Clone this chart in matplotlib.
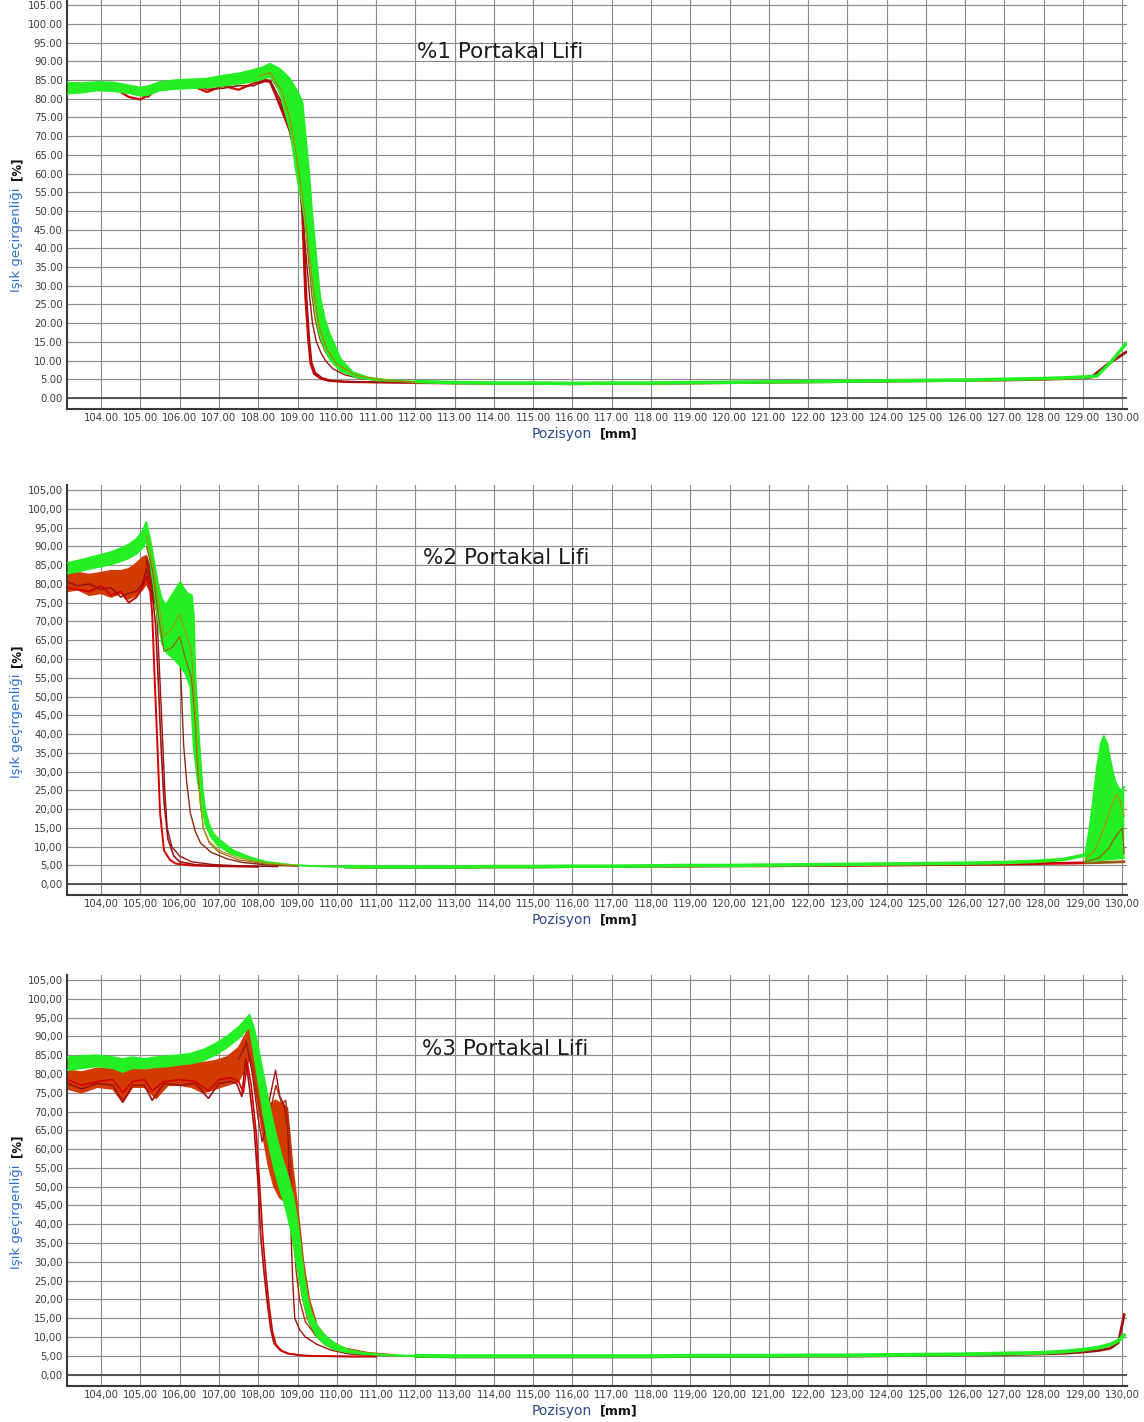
import matplotlib
matplotlib.use("Agg")
import matplotlib.pyplot as plt

# ---------------------------------------------------------------------------
# Axis ticks and labels
# ---------------------------------------------------------------------------
X_TICKS = list(range(104, 131))
Y_TICKS = list(range(0, 106, 5))
TITLES = ["%1 Portakal Lifi", "%2 Portakal Lifi", "%3 Portakal Lifi"]
DECIMAL_SEP = [".", ",", ","]
Y_LABEL = "Işık geçirgenliği"
Y_UNIT = "[%]"
X_LABEL = "Pozisyon"
X_UNIT = "[mm]"

# ---------------------------------------------------------------------------
# Panel 1 : %1 orange fibre  (position [mm] -> transmission [%])
# ---------------------------------------------------------------------------
P1_PLAT_X = [103.15, 103.5, 103.9, 104.3, 104.7, 105.0, 105.2, 105.5, 105.9,
             106.3, 106.7, 107.1, 107.5, 107.9, 108.15, 108.3]
P1_RED1_PLAT = [82.2, 82.6, 83.5, 83.0, 80.5, 79.8, 81.0, 82.5, 84.5,
                83.5, 81.8, 83.5, 82.4, 84.2, 84.8, 84.5]
P1_RED2_PLAT = [82.8, 82.0, 83.0, 83.8, 82.0, 81.0, 80.5, 83.5, 83.8,
                84.0, 82.5, 82.8, 83.5, 83.5, 85.2, 84.8]
P1_GRN_TOP = [84.3, 84.2, 84.5, 84.4, 83.6, 83.0, 83.4, 84.5, 85.0,
              85.2, 85.4, 86.2, 86.8, 87.8, 88.6, 89.4]
P1_GRN_LOW = [81.4, 81.6, 82.2, 82.0, 81.5, 80.8, 81.0, 82.2, 82.6,
              82.8, 83.0, 83.4, 84.0, 84.6, 85.4, 85.8]

P1_GRN_HI_X = [108.55, 108.8, 109.0, 109.13, 109.2, 109.3, 109.37, 109.46, 109.58,
               109.7, 109.83, 110.1, 110.4, 110.8, 111.3, 112.0]
P1_GRN_HI_Y = [88.0, 85.5, 82.0, 79.0, 71.0, 60.0, 50.0, 40.0, 27.0,
               21.0, 17.0, 10.5, 7.0, 5.5, 4.8, 4.4]
P1_GRN_LO_X = [108.45, 108.6, 108.82, 108.97, 109.15, 109.28, 109.41, 109.54, 109.7,
               109.84, 110.1, 110.5, 111.0, 112.0]
P1_GRN_LO_Y = [84.0, 80.0, 71.0, 60.0, 50.0, 40.0, 27.0, 18.0, 13.0,
               10.0, 7.2, 5.5, 4.7, 4.3]

P1_RED1_DROP_X = [108.48, 108.82, 109.03, 109.12, 109.16, 109.2, 109.27, 109.33, 109.42,
                  109.59, 109.8, 110.2, 111.0, 112.0]
P1_RED1_DROP_Y = [80.0, 71.0, 60.0, 50.0, 38.0, 27.0, 16.0, 9.3, 6.5,
                  5.2, 4.6, 4.3, 4.2, 4.1]
P1_RED2_DROP_X = [108.5, 108.84, 109.05, 109.14, 109.19, 109.23, 109.3, 109.36, 109.45,
                  109.62, 109.85, 110.25, 111.0, 112.0]
P1_RED2_DROP_Y = [80.0, 71.0, 60.0, 50.0, 38.0, 27.0, 16.0, 9.5, 6.8,
                  5.4, 4.7, 4.4, 4.2, 4.1]

P1_MID1_X = [108.0, 108.3, 108.55, 108.8, 109.0, 109.12, 109.22, 109.3, 109.38,
             109.48, 109.6, 109.71, 109.9, 110.2, 110.6, 111.2, 112.0]
P1_MID1_Y = [84.0, 85.0, 80.0, 71.0, 62.0, 50.0, 38.0, 28.0, 20.0,
             15.0, 12.0, 10.0, 7.8, 6.2, 5.2, 4.6, 4.2]
P1_MID2_X = [108.0, 108.3, 108.6, 108.85, 109.05, 109.17, 109.27, 109.36, 109.45,
             109.56, 109.7, 109.85, 110.05, 110.35, 110.8, 111.4, 112.0]
P1_MID2_Y = [85.0, 86.0, 81.0, 72.0, 62.0, 50.0, 38.0, 28.0, 21.0,
             16.0, 12.5, 10.0, 8.0, 6.3, 5.2, 4.6, 4.2]
P1_MID3_X = [108.0, 108.3, 108.6, 108.8, 108.95, 109.08, 109.2, 109.3, 109.42,
             109.55, 109.75, 110.0, 110.5, 111.2, 112.0]
P1_MID3_Y = [86.0, 87.0, 82.0, 75.0, 66.0, 57.0, 48.0, 38.0, 28.0,
             19.0, 13.0, 9.0, 6.0, 4.8, 4.3]

P1_TAIL_X = [112.0, 113.0, 114.0, 115.0, 116.0, 117.0, 118.0, 119.0, 120.0, 121.0,
             122.0, 123.0, 124.0, 125.0, 126.0, 127.0, 128.0, 128.6, 129.0]
P1_GRN_TAIL_Y = [4.4, 4.1, 4.0, 4.0, 3.9, 4.0, 4.0, 4.1, 4.2, 4.3,
                 4.4, 4.5, 4.6, 4.7, 4.8, 5.0, 5.2, 5.4, 5.6]
P1_RED_TAIL_Y = [4.1, 4.0, 3.9, 3.9, 3.8, 3.9, 3.9, 4.0, 4.1, 4.2,
                 4.3, 4.4, 4.5, 4.6, 4.7, 4.8, 5.0, 5.2, 5.4]
P1_GRN_END_X = [129.0, 129.36, 129.7, 130.1]
P1_GRN_END_Y = [5.6, 5.9, 9.5, 14.6]
P1_RED_END_X = [129.0, 129.22, 129.6, 130.1]
P1_RED_END_Y = [5.4, 5.6, 8.8, 12.3]

# ---------------------------------------------------------------------------
# Panel 2 : %2 orange fibre
# ---------------------------------------------------------------------------
P2_PLAT_X = [103.15, 103.4, 103.7, 104.0, 104.25, 104.5, 104.7, 104.9, 105.05, 105.15]
P2_GRN_TOP = [85.6, 86.2, 87.0, 87.8, 88.5, 89.5, 90.5, 92.0, 94.0, 96.5]
P2_GRN_LOW = [82.8, 83.2, 84.0, 84.6, 85.2, 86.0, 86.8, 88.0, 89.5, 91.5]
P2_RED_TOP = [83.5, 83.0, 82.5, 83.0, 83.5, 83.5, 84.0, 85.5, 87.0, 87.5]
P2_RED_LOW = [78.0, 78.5, 77.0, 77.5, 76.5, 77.5, 76.0, 77.0, 78.5, 80.0]
P2_RED_HI_X = [105.25, 105.35]
P2_RED_HI_Y = [84.5, 79.0]
P2_RED_LO_X = [105.25, 105.35]
P2_RED_LO_Y = [78.0, 75.0]

P2_GRN_HI_X = [105.25, 105.35, 105.45, 105.55, 105.65, 105.8, 105.95, 106.02, 106.1,
               106.2, 106.31, 106.36, 106.4, 106.5, 106.58, 106.65, 106.75, 106.86,
               107.0, 107.37, 107.8, 108.2, 108.8, 109.5, 110.2]
P2_GRN_HI_Y = [92.0, 86.0, 80.0, 76.0, 74.5, 77.0, 79.5, 80.5, 79.0,
               77.5, 77.0, 72.0, 56.0, 38.0, 26.0, 20.0, 16.0, 13.5,
               12.0, 9.0, 7.2, 6.0, 5.2, 4.8, 4.7]
P2_GRN_LO_X = [105.25, 105.35, 105.45, 105.55, 105.68, 105.85, 106.02, 106.15, 106.27,
               106.35, 106.45, 106.53, 106.65, 106.8, 106.95, 107.3, 107.8, 108.4,
               109.2, 110.2]
P2_GRN_LO_Y = [86.0, 78.0, 70.0, 64.0, 61.5, 60.0, 58.0, 56.0, 52.5,
               37.0, 28.0, 23.0, 16.0, 12.5, 10.5, 8.2, 6.5, 5.5,
               4.9, 4.6]

P2_RED1_X = [103.15, 103.4, 103.7, 104.0, 104.25, 104.5, 104.7, 104.9, 105.05, 105.15,
             105.25, 105.3, 105.35, 105.42, 105.5, 105.6, 105.75, 105.9, 106.3, 107.0, 108.0]
P2_RED1_Y = [79.0, 78.5, 78.0, 79.5, 77.0, 78.0, 75.0, 76.5, 79.0, 82.0,
             78.0, 72.0, 58.0, 40.0, 19.0, 9.0, 6.5, 5.5, 5.0, 4.8, 4.7]
P2_RED2_X = [103.15, 103.4, 103.7, 104.0, 104.25, 104.5, 104.7, 104.9, 105.05, 105.15,
             105.28, 105.38, 105.45, 105.52, 105.6, 105.7, 105.85, 106.0, 106.4, 107.0, 108.0]
P2_RED2_Y = [80.5, 79.5, 80.0, 78.5, 79.0, 76.5, 77.5, 78.0, 80.0, 84.0,
             79.0, 70.0, 55.0, 38.0, 22.0, 12.0, 7.5, 6.0, 5.2, 4.9, 4.7]
P2_MID1_X = [105.15, 105.3, 105.42, 105.48, 105.55, 105.62, 105.68, 105.8, 106.0,
             106.3, 106.8, 107.5, 108.5]
P2_MID1_Y = [86.0, 80.0, 72.0, 58.0, 42.0, 25.0, 15.0, 10.0, 7.5,
             6.0, 5.3, 4.9, 4.7]
P2_MID2_X = [105.15, 105.35, 105.55, 105.8, 106.0, 106.05, 106.1, 106.18, 106.27,
             106.4, 106.53, 106.8, 107.2, 107.6, 108.3, 109.0]
P2_MID2_Y = [87.0, 81.0, 74.0, 72.0, 62.0, 50.0, 37.0, 27.0, 19.0,
             14.0, 11.0, 8.5, 6.8, 5.8, 5.1, 4.8]
P2_MID3_X = [105.15, 105.3, 105.45, 105.6, 105.8, 106.0, 106.15, 106.3, 106.38,
             106.45, 106.52, 106.6, 106.75, 107.0, 107.5, 108.2, 109.0]
P2_MID3_Y = [90.0, 84.0, 72.0, 62.0, 63.0, 66.0, 60.0, 55.0, 45.0,
             32.0, 22.0, 15.0, 11.0, 8.5, 6.5, 5.4, 4.9]
P2_MID4_X = [105.15, 105.3, 105.45, 105.6, 105.8, 106.0, 106.15, 106.3, 106.38,
             106.45, 106.52, 106.6, 106.75, 107.0, 107.5, 108.2, 109.0]
P2_MID4_Y = [93.0, 86.0, 76.0, 66.0, 68.0, 72.0, 67.0, 62.0, 50.0,
             35.0, 22.0, 15.0, 11.5, 9.0, 7.0, 5.6, 5.0]

P2_TAIL_X = [110.2, 111.0, 112.0, 113.0, 114.0, 115.0, 116.0, 117.0, 118.0, 119.0, 120.0,
             121.0, 122.0, 123.0, 124.0, 125.0, 126.0, 127.0, 127.8, 128.5, 129.05]
P2_GRN_TAIL_Y = [4.7, 4.6, 4.6, 4.6, 4.7, 4.7, 4.8, 4.8, 4.9, 5.0, 5.0,
                 5.1, 5.2, 5.3, 5.4, 5.5, 5.6, 5.8, 6.1, 6.6, 7.8]
P2_RED_TAIL_Y = [4.6, 4.5, 4.5, 4.5, 4.6, 4.6, 4.7, 4.7, 4.8, 4.8, 4.9,
                 4.9, 5.0, 5.0, 5.1, 5.2, 5.3, 5.4, 5.5, 5.6, 5.7]
P2_RED_END_X = [129.05, 129.5, 130.05]
P2_RED_END_Y = [5.7, 5.8, 6.0]
P2_SPIKE_HI_X = [129.05, 129.15, 129.25, 129.35, 129.45, 129.53, 129.62, 129.72,
                 129.82, 129.92, 130.0, 130.05]
P2_SPIKE_HI_Y = [7.8, 14.0, 22.0, 31.0, 37.5, 39.5, 37.5, 32.0,
                 27.5, 25.5, 25.0, 26.0]
P2_SPIKE_LO_X = [129.05, 129.3, 129.7, 130.05]
P2_SPIKE_LO_Y = [6.0, 6.3, 6.6, 7.0]
P2_OLIVE_END_X = [129.05, 129.3, 129.5, 129.7, 129.85, 129.95, 130.05]
P2_OLIVE_END_Y = [6.5, 9.0, 14.0, 20.0, 24.0, 22.0, 18.0]
P2_BROWN_END_X = [129.05, 129.4, 129.65, 129.85, 130.0, 130.05]
P2_BROWN_END_Y = [6.0, 7.0, 9.5, 13.0, 15.0, 8.0]

# ---------------------------------------------------------------------------
# Panel 3 : %3 orange fibre
# ---------------------------------------------------------------------------
P3_PLAT_X = [103.15, 103.5, 103.9, 104.3, 104.55, 104.8, 105.1, 105.4, 105.7,
             106.0, 106.3, 106.6, 106.9, 107.2, 107.5, 107.78]
P3_GRN_TOP = [84.5, 84.8, 85.0, 84.5, 84.0, 84.5, 84.0, 84.5, 84.8,
              85.0, 85.5, 86.5, 88.0, 90.0, 92.5, 95.8]
P3_GRN_LOW = [81.0, 81.5, 82.0, 81.5, 80.5, 81.5, 81.5, 81.8, 82.0,
              82.5, 82.8, 83.5, 85.0, 87.0, 89.5, 92.5]
P3_RED_TOP = [81.0, 80.5, 81.5, 81.5, 80.5, 81.5, 81.0, 81.5, 82.0,
              82.5, 82.8, 83.0, 83.5, 84.5, 87.0, 92.5]
P3_RED_LOW = [76.0, 75.0, 76.5, 76.0, 72.5, 76.5, 76.5, 73.5, 77.0,
              77.0, 76.5, 75.0, 76.0, 77.0, 78.0, 84.0]

P3_RED_HI_X = [107.9, 108.02, 108.15, 108.3, 108.44, 108.6, 108.74, 108.82, 108.88,
               108.95, 109.05, 109.15, 109.3, 109.5, 109.8, 110.2, 110.8, 111.5]
P3_RED_HI_Y = [88.0, 84.5, 76.0, 72.0, 73.0, 72.0, 71.0, 62.0, 55.0,
               49.0, 40.0, 30.0, 20.0, 13.0, 9.0, 7.0, 5.8, 5.2]
P3_RED_LO_X = [107.85, 107.95, 108.1, 108.25, 108.4, 108.55, 108.7, 108.82, 108.9,
               109.0, 109.1, 109.25, 109.45, 109.7, 110.0, 110.6, 111.5]
P3_RED_LO_Y = [82.0, 75.0, 65.0, 56.0, 50.0, 47.0, 46.0, 44.0, 38.0,
               30.0, 22.0, 15.0, 10.5, 8.0, 6.5, 5.5, 5.0]

P3_GRN_HI_X = [107.9, 108.02, 108.15, 108.3, 108.45, 108.6, 108.75, 108.9, 109.0,
               109.08, 109.16, 109.25, 109.35, 109.5, 109.65, 109.8, 110.0, 110.3,
               110.7, 111.2, 112.0]
P3_GRN_HI_Y = [92.0, 86.0, 79.0, 71.0, 64.0, 58.0, 53.0, 47.0, 41.0,
               34.0, 27.0, 21.0, 16.5, 13.0, 11.0, 9.5, 8.0, 6.6,
               5.8, 5.3, 5.0]
P3_GRN_LO_X = [107.88, 108.0, 108.12, 108.25, 108.4, 108.53, 108.65, 108.75, 108.86,
               108.95, 109.05, 109.16, 109.3, 109.5, 109.7, 109.9, 110.2, 110.7,
               111.5, 112.0]
P3_GRN_LO_Y = [86.0, 78.0, 70.0, 62.0, 55.0, 50.0, 46.0, 42.0, 37.0,
               31.0, 25.0, 19.0, 14.0, 10.0, 8.0, 6.8, 6.0, 5.4,
               5.0, 4.9]

P3_RED1_X = [103.15, 103.5, 103.9, 104.3, 104.55, 104.8, 105.1, 105.3, 105.6, 106.0,
             106.4, 106.73, 107.0, 107.3, 107.45, 107.58, 107.68, 107.78, 107.9, 108.0,
             108.06, 108.15, 108.23, 108.32, 108.4, 108.55, 108.74, 109.1, 109.6, 110.3, 111.0]
P3_RED1_Y = [77.5, 76.0, 77.5, 77.0, 72.5, 77.0, 77.0, 73.0, 77.5, 77.0,
             77.5, 73.5, 77.5, 78.0, 77.5, 74.0, 84.0, 76.0, 65.0, 50.0,
             37.0, 27.0, 19.0, 12.0, 8.3, 6.5, 5.6, 5.1, 4.9, 4.8, 4.8]
P3_RED2_X = [103.15, 103.5, 103.9, 104.3, 104.55, 104.8, 105.1, 105.3, 105.6, 106.0,
             106.4, 106.73, 107.0, 107.3, 107.5, 107.62, 107.72, 107.82, 107.95, 108.05,
             108.12, 108.2, 108.28, 108.36, 108.45, 108.6, 108.8, 109.2, 109.7, 110.4, 111.0]
P3_RED2_Y = [78.5, 77.0, 78.0, 78.5, 75.0, 78.0, 78.5, 75.5, 78.0, 78.5,
             78.0, 75.5, 78.5, 79.0, 78.0, 75.0, 83.0, 77.0, 64.0, 48.0,
             36.0, 26.0, 18.0, 11.5, 8.0, 6.3, 5.5, 5.0, 4.9, 4.8, 4.8]
P3_MID1_X = [107.5, 107.7, 107.85, 108.0, 108.1, 108.2, 108.3, 108.44, 108.55, 108.65,
             108.75, 108.8, 108.84, 108.88, 108.93, 109.05, 109.2, 109.5, 109.85, 110.3, 111.0]
P3_MID1_Y = [84.0, 88.0, 80.0, 68.0, 62.0, 66.0, 74.0, 81.0, 74.0, 72.0,
             66.0, 50.0, 36.0, 24.0, 15.0, 12.0, 10.0, 8.0, 6.5, 5.5, 5.0]
P3_MID2_X = [107.5, 107.7, 107.85, 108.0, 108.15, 108.3, 108.45, 108.6, 108.7, 108.78,
             108.85, 108.9, 108.96, 109.05, 109.2, 109.5, 109.9, 110.5, 111.2]
P3_MID2_Y = [84.0, 89.0, 82.0, 72.0, 65.0, 70.0, 77.0, 72.0, 73.0, 65.0,
             52.0, 40.0, 28.0, 20.0, 14.0, 10.0, 7.5, 5.8, 5.1]

P3_TAIL_X = [112.0, 113.0, 114.0, 115.0, 116.0, 117.0, 118.0, 119.0, 120.0, 121.0,
             122.0, 123.0, 124.0, 125.0, 126.0, 127.0, 128.0, 128.6, 129.0, 129.4,
             129.7, 129.9, 130.05]
P3_GRN_TAIL_Y = [5.0, 4.9, 4.9, 4.9, 4.9, 4.9, 4.9, 5.0, 5.0, 5.0,
                 5.1, 5.1, 5.2, 5.3, 5.4, 5.6, 5.8, 6.2, 6.6, 7.2,
                 8.0, 9.0, 10.5]
P3_RED_TAIL_Y = [4.8, 4.7, 4.7, 4.7, 4.7, 4.7, 4.7, 4.8, 4.8, 4.8,
                 4.9, 4.9, 5.0, 5.1, 5.2, 5.3, 5.5, 5.7, 6.0, 6.4,
                 7.0, 8.5, 16.0]

# ---------------------------------------------------------------------------
# Styling
# ---------------------------------------------------------------------------
C_RED = "#d40000"
C_RED_DARK = "#9e1212"
C_RED_BAND = "#d23c00"
C_BROWN = "#9a5a10"
C_OLIVE = "#a09a00"
C_GREEN = "#24ee24"
C_GRID = "#8c8c8c"
C_SPINE = "#3a3a3a"

W, H, DPI = 1144, 1422, 100
LEFT_PX, RIGHT_PX = 67, 1127
PANEL_PX = [(0.0, 409.0), (484.8, 895.3), (974.8, 1385.6)]  # (top, bottom)
TITLE_POS = [(0.409, 0.873), (0.414, 0.822), (0.413, 0.819)]
XLIM = (103.13, 130.12)
YLIM = (-2.94, 106.4)

plt.rcParams["font.family"] = ["DejaVu Sans"]
fig = plt.figure(figsize=(W / DPI, H / DPI), dpi=DPI)
fig.patch.set_facecolor("white")


def band(ax, xt, yt, xl, yl, color, z, edge=1.2):
    xs = list(xt) + list(xl)[::-1]
    ys = list(yt) + list(yl)[::-1]
    ax.fill(xs, ys, color=color, lw=0, zorder=z)
    ax.plot(xt, yt, color=color, lw=edge, zorder=z, solid_joinstyle="round")
    ax.plot(xl, yl, color=color, lw=edge, zorder=z, solid_joinstyle="round")


def scan(ax, x, y, color, lw, z):
    ax.plot(x, y, color=color, lw=lw, zorder=z, solid_joinstyle="round",
            solid_capstyle="round")


def setup_axes(i):
    top, bottom = PANEL_PX[i]
    ax = fig.add_axes([LEFT_PX / W, (H - bottom) / H,
                       (RIGHT_PX - LEFT_PX) / W, (bottom - top) / H])
    ax.set_xlim(*XLIM)
    ax.set_ylim(*YLIM)
    sep = DECIMAL_SEP[i]
    ax.set_xticks(X_TICKS)
    ax.set_xticklabels([f"{v:.2f}".replace(".", sep) for v in X_TICKS])
    ax.set_yticks(Y_TICKS)
    ax.set_yticklabels([f"{v:.2f}".replace(".", sep) for v in Y_TICKS])
    ax.tick_params(length=0, labelsize=7.3, labelcolor="#3a3a3a", pad=3)
    ax.grid(True, color=C_GRID, lw=0.85)
    ax.set_axisbelow(True)
    for s in ("top", "right"):
        ax.spines[s].set_visible(False)
    for s in ("left", "bottom"):
        ax.spines[s].set_color(C_SPINE)
        ax.spines[s].set_linewidth(1.5)
    ax.axhline(0, color="#4a4a4a", lw=1.3, zorder=1)
    tx, ty = TITLE_POS[i]
    ax.text(tx, ty, TITLES[i], transform=ax.transAxes, ha="center", va="center",
            fontsize=15.5, color="#1c1c1c", zorder=10)
    return ax


# ---- panel 1 -------------------------------------------------------------
ax1 = setup_axes(0)
scan(ax1, P1_PLAT_X + P1_RED1_DROP_X, P1_RED1_PLAT + P1_RED1_DROP_Y, C_RED, 1.6, 3)
scan(ax1, P1_PLAT_X + P1_RED2_DROP_X, P1_RED2_PLAT + P1_RED2_DROP_Y, C_RED_DARK, 1.2, 3)
scan(ax1, P1_MID1_X, P1_MID1_Y, C_RED_DARK, 1.0, 3)
scan(ax1, P1_MID2_X, P1_MID2_Y, C_BROWN, 1.0, 3)
band(ax1, P1_PLAT_X + P1_GRN_HI_X, P1_GRN_TOP + P1_GRN_HI_Y,
     P1_PLAT_X + P1_GRN_LO_X, P1_GRN_LOW + P1_GRN_LO_Y, C_GREEN, 4)
scan(ax1, P1_MID3_X, P1_MID3_Y, "#c07a00", 0.8, 5)
scan(ax1, P1_TAIL_X, P1_RED_TAIL_Y, C_RED, 2.0, 3)
scan(ax1, P1_RED_END_X, P1_RED_END_Y, C_RED_DARK, 2.0, 3)
scan(ax1, P1_TAIL_X, P1_GRN_TAIL_Y, C_GREEN, 2.6, 4)
scan(ax1, P1_GRN_END_X, P1_GRN_END_Y, C_GREEN, 2.4, 4)

# ---- panel 2 -------------------------------------------------------------
ax2 = setup_axes(1)
band(ax2, P2_PLAT_X + P2_RED_HI_X, P2_RED_TOP + P2_RED_HI_Y,
     P2_PLAT_X + P2_RED_LO_X, P2_RED_LOW + P2_RED_LO_Y, C_RED_BAND, 2)
scan(ax2, P2_RED1_X, P2_RED1_Y, C_RED, 1.4, 3)
scan(ax2, P2_RED2_X, P2_RED2_Y, C_RED_DARK, 1.2, 3)
scan(ax2, P2_MID1_X, P2_MID1_Y, C_RED_DARK, 1.0, 3)
scan(ax2, P2_MID2_X, P2_MID2_Y, "#8a2a10", 1.0, 3)
band(ax2, P2_PLAT_X + P2_GRN_HI_X, P2_GRN_TOP + P2_GRN_HI_Y,
     P2_PLAT_X + P2_GRN_LO_X, P2_GRN_LOW + P2_GRN_LO_Y, C_GREEN, 4)
scan(ax2, P2_MID3_X, P2_MID3_Y, C_BROWN, 0.8, 5)
scan(ax2, P2_MID4_X, P2_MID4_Y, C_OLIVE, 0.8, 5)
scan(ax2, P2_TAIL_X, P2_RED_TAIL_Y, C_RED, 2.0, 3)
scan(ax2, P2_RED_END_X, P2_RED_END_Y, C_BROWN, 2.0, 3)
scan(ax2, P2_TAIL_X, P2_GRN_TAIL_Y, C_GREEN, 2.6, 4)
band(ax2, P2_SPIKE_HI_X, P2_SPIKE_HI_Y, P2_SPIKE_LO_X, P2_SPIKE_LO_Y, C_GREEN, 4)
scan(ax2, P2_OLIVE_END_X, P2_OLIVE_END_Y, C_OLIVE, 0.9, 5)
scan(ax2, P2_BROWN_END_X, P2_BROWN_END_Y, C_BROWN, 0.9, 5)

# ---- panel 3 -------------------------------------------------------------
ax3 = setup_axes(2)
band(ax3, P3_PLAT_X + P3_RED_HI_X, P3_RED_TOP + P3_RED_HI_Y,
     P3_PLAT_X + P3_RED_LO_X, P3_RED_LOW + P3_RED_LO_Y, C_RED_BAND, 2)
scan(ax3, P3_RED1_X, P3_RED1_Y, C_RED_DARK, 1.2, 3)
scan(ax3, P3_RED2_X, P3_RED2_Y, C_RED, 1.2, 3)
scan(ax3, P3_MID1_X, P3_MID1_Y, C_RED_DARK, 1.0, 3)
scan(ax3, P3_MID2_X, P3_MID2_Y, "#b02a10", 1.0, 3)
band(ax3, P3_PLAT_X + P3_GRN_HI_X, P3_GRN_TOP + P3_GRN_HI_Y,
     P3_PLAT_X + P3_GRN_LO_X, P3_GRN_LOW + P3_GRN_LO_Y, C_GREEN, 4)
scan(ax3, P3_TAIL_X, P3_RED_TAIL_Y, C_RED_DARK, 2.0, 3)
scan(ax3, P3_TAIL_X, P3_GRN_TAIL_Y, C_GREEN, 2.8, 4)

# ---- axis titles -------------------------------------------------------------
renderer = fig.canvas.get_renderer()
for top, bottom in PANEL_PX:
    yb = H - (bottom - 117)
    t = fig.text(17 / W, yb / H, Y_LABEL, rotation=90, ha="center", va="bottom",
                 fontsize=9.5, color="#2a6fd0")
    ext = t.get_window_extent(renderer)
    fig.text(17 / W, (ext.y1 + 7) / H, Y_UNIT, rotation=90, ha="center", va="bottom",
             fontsize=8.5, fontweight="bold", color="#111111")
    yx = H - (bottom + 25)
    fig.text(592 / W, yx / H, X_LABEL, ha="right", va="center",
             fontsize=10, color="#2b4a8a")
    fig.text(600 / W, yx / H, X_UNIT, ha="left", va="center",
             fontsize=9, fontweight="bold", color="#111111")

fig.savefig("out.png", dpi=DPI, facecolor="white")
